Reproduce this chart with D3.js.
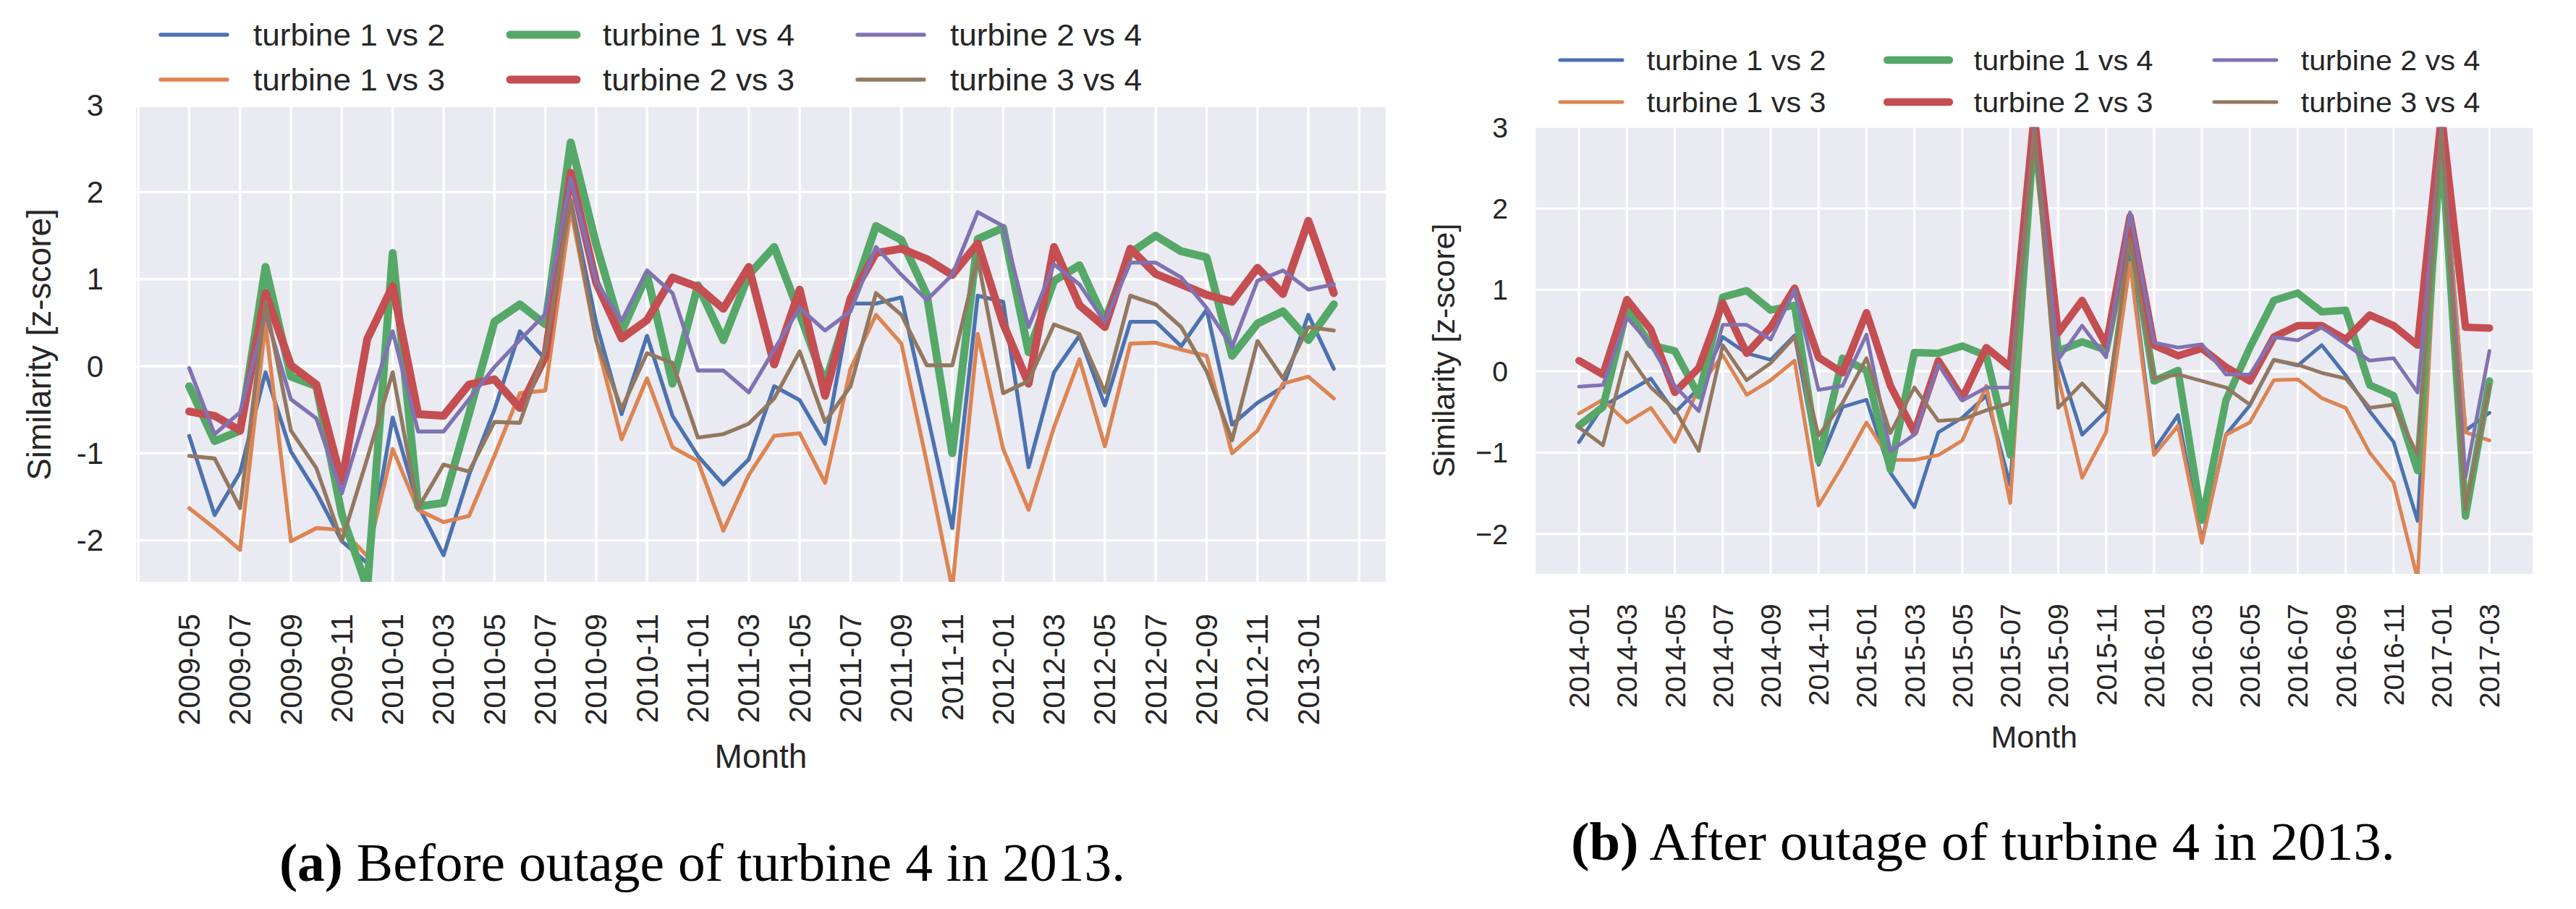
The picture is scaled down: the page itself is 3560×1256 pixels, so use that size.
<!DOCTYPE html>
<html>
<head>
<meta charset="utf-8">
<script src="https://cdn.jsdelivr.net/npm/d3@7"></script>
<style>
  html, body { margin: 0; padding: 0; background: #fff; }
  svg { display: block; }
</style>
</head>
<body>
<svg id="chart" width="3560" height="1256"></svg>
<script>
// Series shared by both panels
const seriesNames = ['turbine 1 vs 2', 'turbine 1 vs 3', 'turbine 1 vs 4', 'turbine 2 vs 3', 'turbine 2 vs 4', 'turbine 3 vs 4'];
const seriesColors = ['#4C72B0', '#DD8452', '#55A868', '#C44E52', '#8172B3', '#937860'];
const thickSeries = ['turbine 1 vs 4', 'turbine 2 vs 3'];

// (a) before outage: 2009-05 .. 2013-02
const monthsA = [
  '2009-05', '2009-06', '2009-07', '2009-08', '2009-09', '2009-10', '2009-11', '2009-12',
  '2010-01', '2010-02', '2010-03', '2010-04', '2010-05', '2010-06', '2010-07', '2010-08', '2010-09', '2010-10', '2010-11', '2010-12',
  '2011-01', '2011-02', '2011-03', '2011-04', '2011-05', '2011-06', '2011-07', '2011-08', '2011-09', '2011-10', '2011-11', '2011-12',
  '2012-01', '2012-02', '2012-03', '2012-04', '2012-05', '2012-06', '2012-07', '2012-08', '2012-09', '2012-10', '2012-11', '2012-12',
  '2013-01', '2013-02'
];
const t12A = [-0.80, -1.71, -1.22, -0.07, -0.98, -1.45, -2.01, -2.26, -0.59, -1.60, -2.17, -1.25, -0.50, 0.40, 0.08, 1.91, 0.50, -0.55, 0.35, -0.57,
  -1.03, -1.36, -1.07, -0.23, -0.39, -0.89, 0.72, 0.72, 0.79, -0.53, -1.86, 0.81, 0.74, -1.16, -0.07, 0.35, -0.45, 0.51, 0.51, 0.23,
  0.65, -0.67, -0.42, -0.24, 0.59, -0.03];
const t13A = [-1.63, -1.86, -2.11, 0.49, -2.01, -1.86, -1.88, -2.18, -0.95, -1.65, -1.79, -1.72, -1.03, -0.31, -0.28, 1.80, 0.30, -0.84, -0.14, -0.93,
  -1.09, -1.89, -1.25, -0.80, -0.77, -1.34, -0.03, 0.59, 0.26, -1.11, -2.55, 0.37, -0.95, -1.65, -0.70, 0.08, -0.92, 0.26, 0.27, 0.19,
  0.12, -1.00, -0.74, -0.20, -0.12, -0.37];
const t14A = [-0.23, -0.86, -0.74, 1.14, -0.12, -0.23, -1.70, -2.55, 1.30, -1.61, -1.57, -0.55, 0.51, 0.71, 0.48, 2.57, 1.40, 0.40, 1.05, -0.20,
  0.93, 0.30, 1.05, 1.37, 0.60, -0.20, 0.74, 1.61, 1.45, 0.82, -1.00, 1.46, 1.59, 0.16, 0.98, 1.16, 0.52, 1.30, 1.50, 1.32,
  1.25, 0.12, 0.49, 0.63, 0.30, 0.71];
const t23A = [-0.52, -0.57, -0.74, 0.84, 0.01, -0.21, -1.33, 0.31, 0.92, -0.55, -0.57, -0.21, -0.15, -0.48, 0.11, 2.22, 0.96, 0.32, 0.53, 1.02,
  0.91, 0.66, 1.14, 0.02, 0.88, -0.34, 0.78, 1.30, 1.35, 1.23, 1.05, 1.41, 0.49, -0.20, 1.37, 0.70, 0.45, 1.35, 1.06, 0.94,
  0.82, 0.74, 1.13, 0.83, 1.67, 0.84];
const t24A = [-0.02, -0.78, -0.53, 0.60, -0.38, -0.60, -1.46, -0.50, 0.40, -0.75, -0.75, -0.38, -0.01, 0.30, 0.60, 2.16, 0.97, 0.52, 1.10, 0.84,
  -0.05, -0.05, -0.30, 0.19, 0.67, 0.41, 0.63, 1.37, 1.05, 0.76, 1.05, 1.77, 1.61, 0.45, 1.17, 0.94, 0.51, 1.19, 1.19, 1.02,
  0.67, 0.22, 0.98, 1.10, 0.88, 0.94];
const t34A = [-1.03, -1.06, -1.63, 0.74, -0.74, -1.17, -2.01, -1.06, -0.07, -1.63, -1.13, -1.21, -0.64, -0.65, 0.19, 1.90, 0.30, -0.49, 0.15, 0.04,
  -0.82, -0.78, -0.66, -0.37, 0.17, -0.64, -0.23, 0.84, 0.59, 0.01, 0.01, 1.24, -0.31, -0.17, 0.48, 0.37, -0.30, 0.81, 0.71, 0.45,
  -0.06, -0.85, 0.29, -0.14, 0.45, 0.41];

// (b) after outage: 2014-01 .. 2017-03
const monthsB = [
  '2014-01', '2014-02', '2014-03', '2014-04', '2014-05', '2014-06', '2014-07', '2014-08', '2014-09', '2014-10', '2014-11', '2014-12',
  '2015-01', '2015-02', '2015-03', '2015-04', '2015-05', '2015-06', '2015-07', '2015-08', '2015-09', '2015-10', '2015-11', '2015-12',
  '2016-01', '2016-02', '2016-03', '2016-04', '2016-05', '2016-06', '2016-07', '2016-08', '2016-09', '2016-10', '2016-11', '2016-12',
  '2017-01', '2017-02', '2017-03'
];
const t12B = [-0.87, -0.43, -0.26, -0.09, -0.51, -0.21, 0.42, 0.22, 0.14, 0.44, -1.15, -0.44, -0.35, -1.25, -1.67, -0.75, -0.57, -0.30, -1.40, 2.90,
  0.14, -0.78, -0.49, 1.42, -0.97, -0.54, -2.08, -0.78, -0.42, 0.14, 0.07, 0.32, -0.05, -0.49, -0.87, -1.84, 3.00, -0.73, -0.51];
const t13B = [-0.52, -0.35, -0.63, -0.45, -0.87, -0.20, 0.20, -0.29, -0.11, 0.13, -1.65, -1.16, -0.63, -1.09, -1.09, -1.03, -0.85, -0.18, -1.62, 2.85,
  -0.07, -1.31, -0.75, 1.33, -1.03, -0.67, -2.11, -0.78, -0.63, -0.11, -0.10, -0.33, -0.45, -1.00, -1.37, -2.55, 3.00, -0.75, -0.85];
const t14B = [-0.67, -0.44, 0.76, 0.32, 0.25, -0.30, 0.91, 0.99, 0.75, 0.81, -1.10, 0.16, 0.01, -1.21, 0.23, 0.22, 0.31, 0.19, -1.03, 2.95,
  0.25, 0.36, 0.26, 1.71, -0.12, 0.01, -1.83, -0.36, 0.29, 0.87, 0.96, 0.73, 0.75, -0.17, -0.30, -1.22, 2.80, -1.78, -0.12];
const t23B = [0.13, -0.04, 0.88, 0.51, -0.26, 0.04, 0.84, 0.22, 0.54, 1.02, 0.17, -0.02, 0.72, -0.18, -0.75, 0.13, -0.33, 0.29, 0.05, 3.15,
  0.47, 0.87, 0.32, 1.90, 0.32, 0.19, 0.28, 0.05, -0.12, 0.42, 0.56, 0.56, 0.39, 0.69, 0.56, 0.32, 3.15, 0.54, 0.53];
const t24B = [-0.19, -0.17, 0.66, 0.32, -0.18, -0.49, 0.57, 0.57, 0.39, 1.00, -0.23, -0.18, 0.45, -0.98, -0.78, 0.08, -0.36, -0.20, -0.20, 3.00,
  0.14, 0.56, 0.17, 1.95, 0.35, 0.29, 0.33, -0.04, -0.04, 0.42, 0.38, 0.54, 0.33, 0.13, 0.16, -0.26, 3.00, -1.30, 0.25];
const t34B = [-0.69, -0.91, 0.23, -0.20, -0.47, -0.98, 0.32, -0.11, 0.10, 0.42, -0.79, -0.39, 0.16, -0.76, -0.20, -0.61, -0.59, -0.48, -0.39, 2.95,
  -0.45, -0.15, -0.47, 1.62, -0.09, -0.04, -0.12, -0.20, -0.41, 0.14, 0.08, -0.02, -0.09, -0.45, -0.41, -1.03, 2.95, -1.70, -0.17];

const yTicks = [-2, -1, 0, 1, 2, 3];

const svg = d3.select('#chart');
const ink = '#262626';
const sans = '"Liberation Sans", Arial, Helvetica, sans-serif';

function drawPanel(p) {
  const x = d3.scaleLinear().domain(p.xDomain).range([p.left, p.right]);
  const y = d3.scaleLinear().domain(p.yDomain).range([p.bottom, p.top]);
  const s = p.scale;
  const g = svg.append('g');

  const clipId = 'clip-' + p.id;
  g.append('clipPath').attr('id', clipId)
    .append('rect')
    .attr('x', p.left).attr('y', p.top)
    .attr('width', p.right - p.left).attr('height', p.bottom - p.top);

  g.append('rect')
    .attr('x', p.left).attr('y', p.top)
    .attr('width', p.right - p.left).attr('height', p.bottom - p.top)
    .attr('fill', '#EAEAF2');

  const grid = g.append('g').attr('clip-path', `url(#${clipId})`)
    .attr('stroke', '#fff').attr('stroke-width', 3.4 * s);

  // vertical grid every second month
  const gridIdx = d3.range(p.gridFrom, p.gridTo + 1, 2);
  grid.selectAll('line.v').data(gridIdx).join('line')
    .attr('class', 'v')
    .attr('x1', d => x(d)).attr('x2', d => x(d))
    .attr('y1', p.top).attr('y2', p.bottom);
  grid.selectAll('line.h').data(yTicks).join('line')
    .attr('class', 'h')
    .attr('x1', p.left).attr('x2', p.right)
    .attr('y1', d => y(d)).attr('y2', d => y(d));

  // lines
  const line = d3.line().x((d, i) => x(i)).y(d => y(d));
  const lines = g.append('g').attr('clip-path', `url(#${clipId})`);
  p.values.forEach((vals, k) => {
    lines.append('path')
      .datum(vals)
      .attr('d', line)
      .attr('fill', 'none')
      .attr('stroke', seriesColors[k])
      .attr('stroke-width', (thickSeries.includes(seriesNames[k]) ? 11 : 5.4) * s)
      .attr('stroke-linejoin', 'round')
      .attr('stroke-linecap', 'round');
  });

  // y tick labels
  g.append('g').selectAll('text').data(yTicks.filter(d => y(d) >= p.top - 8)).join('text')
    .attr('x', p.left - p.yTickGap)
    .attr('y', d => y(d))
    .attr('text-anchor', 'end')
    .attr('dominant-baseline', 'central')
    .attr('font-family', sans)
    .attr('font-size', 42 * s)
    .attr('fill', ink)
    .text(d => d < 0 ? p.minus + Math.abs(d) : String(d));

  // x tick labels (every second month, rotated)
  const tickIdx = p.months.map((m, i) => i).filter(i => i % 2 === 0);
  g.append('g').selectAll('text').data(tickIdx).join('text')
    .attr('transform', i => `translate(${x(i)},${p.bottom + 44 * s}) rotate(-90)`)
    .attr('text-anchor', 'end')
    .attr('dominant-baseline', 'central')
    .attr('font-family', sans)
    .attr('font-size', 42 * s)
    .attr('fill', ink)
    .text(i => p.months[i]);

  // axis titles
  g.append('text')
    .attr('transform', `translate(${p.yLabelX},${(p.top + p.bottom) / 2}) rotate(-90)`)
    .attr('text-anchor', 'middle')
    .attr('dominant-baseline', 'central')
    .attr('font-family', sans)
    .attr('font-size', 46 * s)
    .attr('fill', ink)
    .text('Similarity [z-score]');

  g.append('text')
    .attr('x', (p.left + p.right) / 2)
    .attr('y', p.xLabelY)
    .attr('text-anchor', 'middle')
    .attr('dominant-baseline', 'central')
    .attr('font-family', sans)
    .attr('font-size', 46 * s)
    .attr('fill', ink)
    .text('Month');

  // legend, 3 columns x 2 rows, column-major
  const leg = g.append('g');
  seriesNames.forEach((name, k) => {
    const col = Math.floor(k / 2), row = k % 2;
    const cx = p.legendCols[col], cy = p.legendRows[row];
    leg.append('line')
      .attr('x1', cx).attr('x2', cx + 92 * s)
      .attr('y1', cy).attr('y2', cy)
      .attr('stroke', seriesColors[k])
      .attr('stroke-width', (thickSeries.includes(name) ? 11 : 5.4) * s)
      .attr('stroke-linecap', 'round');
    leg.append('text')
      .attr('x', cx + 128 * s)
      .attr('y', cy)
      .attr('dominant-baseline', 'central')
      .attr('font-family', sans)
      .attr('font-size', 42 * s)
      .attr('textLength', 265 * s)
      .attr('lengthAdjust', 'spacingAndGlyphs')
      .attr('fill', ink)
      .text(name);
  });

  // caption
  const cap = g.append('text')
    .attr('x', p.captionX)
    .attr('y', p.captionY)
    .attr('font-family', '"Liberation Serif", "Times New Roman", serif')
    .attr('font-size', 74)
    .attr('textLength', p.captionLen)
    .attr('lengthAdjust', 'spacingAndGlyphs')
    .attr('fill', '#000');
  cap.append('tspan').attr('font-weight', 'bold').text(p.captionTag);
  cap.append('tspan').text(' ' + p.captionText);
}

drawPanel({
  id: 'a', months: monthsA, values: [t12A, t13A, t14A, t23A, t24A, t34A],
  left: 188, right: 1915, top: 148, bottom: 804,
  xDomain: [-2.09, 47.04], yDomain: [-2.477, 2.976],
  gridFrom: -2, gridTo: 46, scale: 1, minus: '-',
  yTickGap: 45, yLabelX: 54, xLabelY: 1045,
  legendCols: [222, 705, 1185], legendRows: [48, 110],
  captionTag: '(a)', captionText: 'Before outage of turbine 4 in 2013.',
  captionX: 386, captionY: 1217, captionLen: 1169
});

drawPanel({
  id: 'b', months: monthsB, values: [t12B, t13B, t14B, t23B, t24B, t34B],
  left: 2122.5, right: 3500, top: 175.5, bottom: 793,
  xDomain: [-1.8, 39.8], yDomain: [-2.49, 3.0],
  gridFrom: 0, gridTo: 38, scale: 0.935, minus: '\u2212',
  yTickGap: 38.5, yLabelX: 1995, xLabelY: 1018,
  legendCols: [2156, 2608, 3060], legendRows: [83, 141],
  captionTag: '(b)', captionText: 'After outage of turbine 4 in 2013.',
  captionX: 2171, captionY: 1188, captionLen: 1139
});
</script>
</body>
</html>
